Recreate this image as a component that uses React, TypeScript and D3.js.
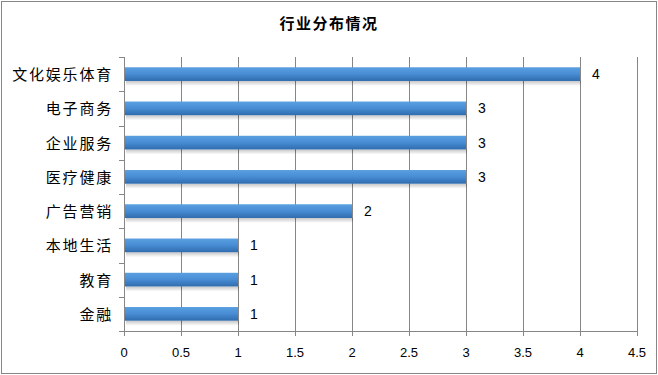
import React from "react";
import * as d3 from "d3";

const categories = ["文化娱乐体育", "电子商务", "企业服务", "医疗健康", "广告营销", "本地生活", "教育", "金融"];
const values = [4, 3, 3, 3, 2, 1, 1, 1];
const xTicks = [0, 0.5, 1, 1.5, 2, 2.5, 3, 3.5, 4, 4.5];
const title = "行业分布情况";

export default function App() {
  const W = 658, H = 375;
  const left = 124, right = 637, top = 57, bottom = 331;
  const x = d3.scaleLinear().domain([0, 4.5]).range([left, right]);
  const y = d3.scaleBand().domain(categories).range([top, bottom]).paddingInner(0.6).paddingOuter(0.3);
  const yOuter = d3.scaleBand().domain(categories).range([top, bottom]);
  const font = "'Noto Sans CJK SC', 'Liberation Sans', sans-serif";
  const numFont = "'Liberation Sans', 'DejaVu Sans', sans-serif";
  return (
    <svg width={W} height={H} style={{ position: "absolute", left: 0, top: 0 }}>
      <defs>
        <linearGradient id="barg" x1="0" y1="0" x2="0" y2="1">
          <stop offset="0" stopColor="#5a9fe0" />
          <stop offset="0.45" stopColor="#4a8fd6" />
          <stop offset="1" stopColor="#2f6cae" />
        </linearGradient>
        <linearGradient id="shadow" x1="0" y1="0" x2="0" y2="1">
          <stop offset="0" stopColor="#000" stopOpacity="0.22" />
          <stop offset="1" stopColor="#000" stopOpacity="0" />
        </linearGradient>
      </defs>
      <rect x={0} y={0} width={W} height={H} fill="#fff" />
      <rect x={1.5} y={1.5} width={W - 3} height={H - 3} fill="none" stroke="#868686" strokeWidth={1} />
      <text x={329} y={29} textAnchor="middle" fontFamily={font} fontSize={15} fontWeight="bold" letterSpacing={1.5} fill="#000">{title}</text>
      {xTicks.map((t) => (
        <g key={t}>
          {t > 0 && <line x1={Math.round(x(t)) + 0.5} x2={Math.round(x(t)) + 0.5} y1={top} y2={bottom} stroke="#868686" />}
          <line x1={Math.round(x(t)) + 0.5} x2={Math.round(x(t)) + 0.5} y1={bottom} y2={bottom + 5} stroke="#868686" />
          <text x={x(t)} y={357} textAnchor="middle" fontFamily={numFont} fontSize={13} fill="#000">{t}</text>
        </g>
      ))}
      <line x1={left + 0.5} x2={left + 0.5} y1={top} y2={bottom} stroke="#868686" />
      <line x1={left} x2={right + 1} y1={bottom + 0.5} y2={bottom + 0.5} stroke="#868686" />
      {categories.map((c) => (
        <line key={"t" + c} x1={left - 5} x2={left} y1={Math.round(yOuter(c)!) + 0.5} y2={Math.round(yOuter(c)!) + 0.5} stroke="#868686" />
      ))}
      <line x1={left - 5} x2={left} y1={bottom + 0.5} y2={bottom + 0.5} stroke="#868686" />
      {categories.map((c, i) => {
        const by = y(c)!;
        const bh = y.bandwidth();
        const x0 = x(0) + 1;
        const x1 = x(values[i]);
        return (
          <g key={c}>
            <rect x={x0 + 1} y={by + bh} width={x1 - x0} height={5} fill="url(#shadow)" />
            <rect x={x0} y={by} width={x1 - x0} height={bh} fill="url(#barg)" />
            <text x={x1 + 12} y={by + bh / 2 + 5} fontFamily={numFont} fontSize={14} fill="#000">{values[i]}</text>
            <text x={113} y={yOuter(c)! + yOuter.bandwidth() / 2 + 6} textAnchor="end" fontFamily={font} fontSize={15} letterSpacing={1.8} fill="#000">{c}</text>
          </g>
        );
      })}
    </svg>
  );
}
